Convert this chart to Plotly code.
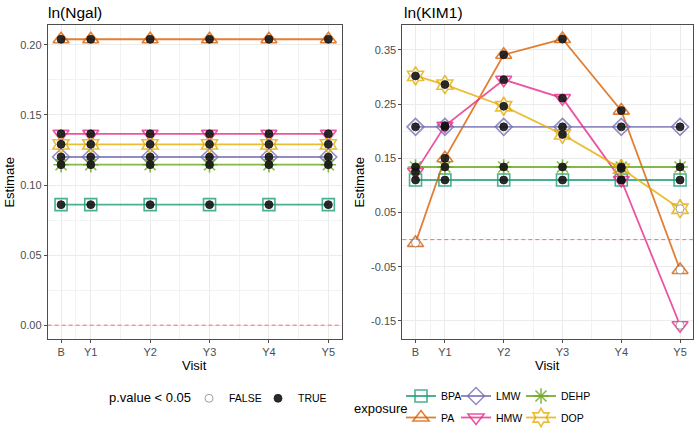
import plotly.graph_objects as go

# ---------------- data ----------------
visits = ["B", "Y1", "Y2", "Y3", "Y4", "Y5"]
visit_index = [0, 1, 3, 5, 7, 9]
exposures = ["BPA", "PA", "LMW", "HMW", "DEHP", "DOP"]

# ln(Ngal) estimates (constant over visits)
ngal_BPA = [0.086] * 6
ngal_PA = [0.204] * 6
ngal_LMW = [0.120] * 6
ngal_HMW = [0.1365] * 6
ngal_DEHP = [0.1145] * 6
ngal_DOP = [0.129] * 6
ngal_sig = {e: [True] * 6 for e in exposures}

# ln(KIM1) estimates
kim_BPA = [0.110] * 6
kim_PA = [-0.006, 0.150, 0.341, 0.370, 0.238, -0.056]
kim_LMW = [0.208] * 6
kim_HMW = [0.125, 0.210, 0.295, 0.261, 0.110, -0.158]
kim_DEHP = [0.134] * 6
kim_DOP = [0.302, 0.286, 0.246, 0.194, 0.131, 0.057]
kim_sig = {
    "BPA": [True] * 6,
    "PA": [False, True, True, True, True, False],
    "LMW": [True] * 6,
    "HMW": [True, True, True, True, True, False],
    "DEHP": [True] * 6,
    "DOP": [True, True, True, True, True, False],
}

ngal = {"BPA": ngal_BPA, "PA": ngal_PA, "LMW": ngal_LMW, "HMW": ngal_HMW, "DEHP": ngal_DEHP, "DOP": ngal_DOP}
kim = {"BPA": kim_BPA, "PA": kim_PA, "LMW": kim_LMW, "HMW": kim_HMW, "DEHP": kim_DEHP, "DOP": kim_DOP}

left_ticks = [0.00, 0.05, 0.10, 0.15, 0.20]
left_ticktext = ["0.00", "0.05", "0.10", "0.15", "0.20"]
right_ticks = [-0.15, -0.05, 0.05, 0.15, 0.25, 0.35]
right_ticktext = ["-0.15", "-0.05", "0.05", "0.15", "0.25", "0.35"]

# ---------------- style ----------------
FONT = "Liberation Sans, Arial, sans-serif"
W, H = 697, 432
colors = {"BPA": "rgba(27,158,119,0.8)", "PA": "rgba(217,95,2,0.8)", "LMW": "rgba(117,112,179,0.8)",
          "HMW": "rgba(231,41,138,0.8)", "DEHP": "rgba(102,166,30,0.8)", "DOP": "rgba(230,171,2,0.8)"}
symbols = {"BPA": "square-open", "PA": "triangle-up-open", "LMW": "diamond-open",
           "HMW": "triangle-down-open", "DEHP": "asterisk-open", "DOP": "hexagram-open"}
sizes = {"BPA": 12, "PA": 14, "LMW": 13, "HMW": 14, "DEHP": 13, "DOP": 14}
# one legend per key so the keys sit in ggplot-like columns (x px, y px of key centre)
legend_pos = {"BPA": ("legend2", 401, 396), "LMW": ("legend3", 456, 396), "DEHP": ("legend4", 521, 396),
              "PA": ("legend5", 401, 418), "HMW": ("legend6", 456, 418), "DOP": ("legend7", 521, 418),
              False: ("legend", 189, 398.3), True: ("legend8", 258, 398.3)}

fig = go.Figure()

panels = [(ngal, ngal_sig, "x", "y"), (kim, kim_sig, "x2", "y2")]

for pi, (vals, sig, xa, ya) in enumerate(panels):
    for e in exposures:
        fig.add_trace(go.Scatter(
            x=visit_index, y=vals[e], xaxis=xa, yaxis=ya, name=e,
            mode="lines+markers", legendgroup=e, legend=legend_pos[e][0],
            showlegend=(pi == 0),
            line=dict(color=colors[e], width=1.8),
            marker=dict(symbol=symbols[e], size=sizes[e], color=colors[e], line=dict(width=1.6, color=colors[e])),
            hoverinfo="skip"))

first_shown = {True: False, False: False}
for pi, (vals, sig, xa, ya) in enumerate(panels):
    for status in (False, True):
        xs, ys = [], []
        for e in exposures:
            for xv, yv, s in zip(visit_index, vals[e], sig[e]):
                if s == status:
                    xs.append(xv)
                    ys.append(yv)
        if not xs:
            continue
        show = not first_shown[status]
        first_shown[status] = True
        fig.add_trace(go.Scatter(
            x=xs, y=ys, xaxis=xa, yaxis=ya, mode="markers",
            name="TRUE" if status else "FALSE", legend=legend_pos[status][0],
            legendgroup="p" + str(status), showlegend=show,
            marker=dict(symbol="circle", size=8,
                        color="rgba(20,20,20,0.9)" if status else "white",
                        line=dict(width=0.8, color="rgba(20,20,20,0.9)" if status else "rgba(60,60,60,0.6)")),
            hoverinfo="skip"))

# panel geometry (pixels)
L1, R1 = 47.7, 341.7
L2, R2 = 402.3, 693.3
TOP, BOT = 25, 340

axis_common = dict(showline=True, mirror=True, linecolor="#4d4d4d", linewidth=0.9,
                   ticks="outside", ticklen=3, tickcolor="#4d4d4d", tickwidth=0.9,
                   showgrid=True, gridcolor="#EBEBEB", gridwidth=1, zeroline=False,
                   tickfont=dict(family=FONT, size=11, color="#4D4D4D"), automargin=False)

xminor = dict(tickmode="array", tickvals=[0.5, 2, 4, 6, 8], showgrid=True, gridcolor="#F2F2F2", gridwidth=0.6, ticks="")

layout_legends = {}
for key, (lname, lx, ly) in legend_pos.items():
    layout_legends[lname] = dict(orientation="h", x=lx / W, xanchor="left", y=(H - ly) / H, yanchor="middle",
                                 font=dict(family=FONT, size=10.5, color="black"), bgcolor="rgba(0,0,0,0)")

fig.update_layout(
    xaxis=dict(domain=[L1 / W, R1 / W], range=[-0.45, 9.45], tickmode="array", tickvals=visit_index,
               ticktext=visits, minor=xminor, anchor="y", **axis_common),
    xaxis2=dict(domain=[L2 / W, R2 / W], range=[-0.45, 9.45], tickmode="array", tickvals=visit_index,
                ticktext=visits, minor=xminor, anchor="y2", **axis_common),
    yaxis=dict(domain=[(H - BOT) / H, (H - TOP) / H], range=[-0.0100, 0.2142], tickmode="array",
               tickvals=left_ticks, ticktext=left_ticktext, anchor="x",
               minor=dict(tickmode="array", tickvals=[0.025, 0.075, 0.125, 0.175], showgrid=True,
                          gridcolor="#F2F2F2", gridwidth=0.6, ticks=""), **axis_common),
    yaxis2=dict(domain=[(H - BOT) / H, (H - TOP) / H], range=[-0.1837, 0.396], tickmode="array",
                tickvals=right_ticks, ticktext=right_ticktext, anchor="x2",
                minor=dict(tickmode="array", tickvals=[-0.1, 0.0, 0.1, 0.2, 0.3], showgrid=True,
                           gridcolor="#F2F2F2", gridwidth=0.6, ticks=""), **axis_common),
    width=W, height=H, margin=dict(l=0, r=0, t=0, b=0),
    plot_bgcolor="white", paper_bgcolor="white",
    font=dict(family=FONT, color="black"),
    showlegend=True,
    **layout_legends,
)

# zero reference lines
for xr, yr in (("x domain", "y"), ("x2 domain", "y2")):
    fig.add_shape(type="line", xref=xr, yref=yr, x0=0, x1=1, y0=0, y1=0,
                  line=dict(color="rgba(248,95,95,0.9)", width=1, dash="4px,3px"), layer="above")

ann = [
    dict(text="ln(Ngal)", x=46 / W, y=(H - 12.5) / H, xanchor="left", yanchor="middle", font=dict(size=15.5)),
    dict(text="ln(KIM1)", x=402 / W, y=(H - 12.5) / H, xanchor="left", yanchor="middle", font=dict(size=15.5)),
    dict(text="Visit", x=(L1 + R1) / 2 / W, y=(H - 366) / H, xanchor="center", yanchor="middle", font=dict(size=13)),
    dict(text="Visit", x=(L2 + R2) / 2 / W, y=(H - 366) / H, xanchor="center", yanchor="middle", font=dict(size=13)),
    dict(text="Estimate", x=9.5 / W, y=(H - (TOP + BOT) / 2) / H, xanchor="center", yanchor="middle",
         textangle=-90, font=dict(size=13)),
    dict(text="Estimate", x=359.5 / W, y=(H - (TOP + BOT) / 2) / H, xanchor="center", yanchor="middle",
         textangle=-90, font=dict(size=13)),
    dict(text="p.value < 0.05", x=107.3 / W, y=(H - 398.3) / H, xanchor="left", yanchor="middle", font=dict(size=13)),
    dict(text="exposure", x=352 / W, y=(H - 409.5) / H, xanchor="left", yanchor="middle", font=dict(size=13)),
]
for a in ann:
    a["font"]["family"] = FONT
    a["font"]["color"] = "black"
    fig.add_annotation(xref="paper", yref="paper", showarrow=False, **a)

fig.write_html("out.html", config={"displayModeBar": False},
               post_script="document.body.style.margin='0';document.body.style.overflow='hidden';")
